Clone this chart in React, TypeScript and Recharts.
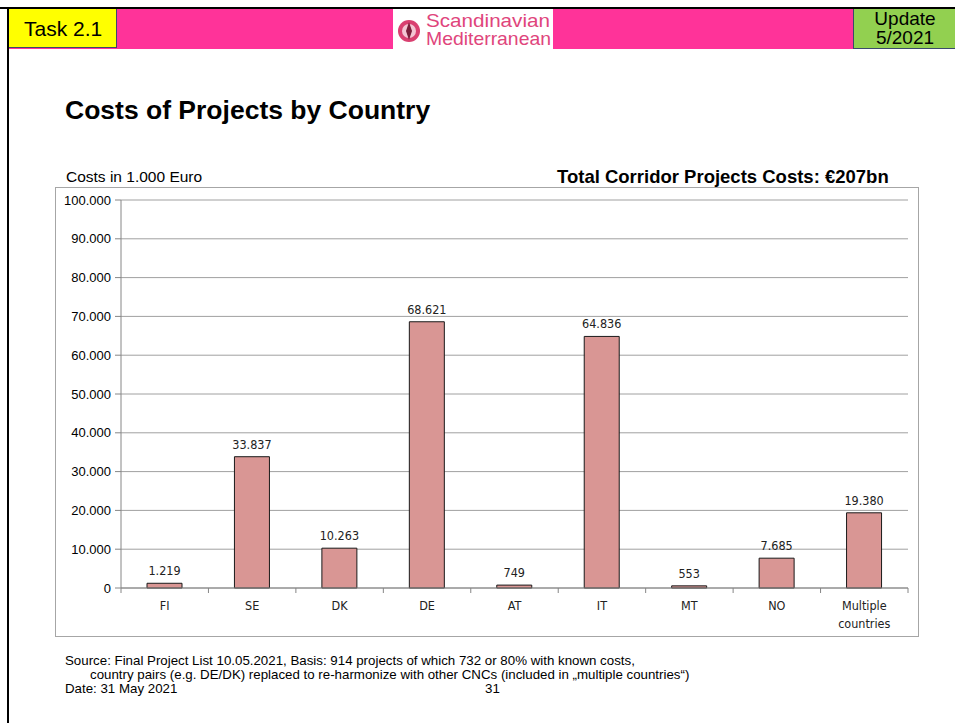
import React from 'react';
import { BarChart, Bar, XAxis, YAxis, CartesianGrid, LabelList } from 'recharts';

// country codes and project costs (in 1.000 Euro)
const countries = ['FI', 'SE', 'DK', 'DE', 'AT', 'IT', 'MT', 'NO', 'Multiple countries'];
const costs = [1219, 33837, 10263, 68621, 749, 64836, 553, 7685, 19380];
const yTicks = [0, 10000, 20000, 30000, 40000, 50000, 60000, 70000, 80000, 90000, 100000];

const data = countries.map((c, i) => ({ country: c, cost: costs[i] }));

const CHART_W = 864;
const CHART_H = 450;
const Y_W = 66;
const RIGHT = 11;
const band = (CHART_W - Y_W - RIGHT) / countries.length;

// 1.219 style thousands separator
const fmt = (v: number) => String(v).replace(/\B(?=(\d{3})+(?!\d))/g, '.');

const narrow = '"DejaVu Sans Condensed", "Liberation Sans", sans-serif';
const arial = '"Liberation Sans", Arial, sans-serif';

const CountryTick = (props: any) => {
  const { x, y, payload, index } = props;
  const lines = String(payload.value).split(' ');
  const left = x - band / 2;
  return (
    <g>
      <line x1={left} y1={y - 8} x2={left} y2={y - 3} stroke="#868686" />
      {index === countries.length - 1 && (
        <line x1={x + band / 2} y1={y - 8} x2={x + band / 2} y2={y - 3} stroke="#868686" />
      )}
      {lines.map((l, i) => (
        <text key={i} x={x} y={y + 14 + i * 18} textAnchor="middle" fontSize={12.5} fill="#222" fontFamily={narrow}>
          {l}
        </text>
      ))}
    </g>
  );
};

export default function App() {
  return (
    <div style={{ position: 'absolute', left: 0, top: 0, width: 955, height: 723, background: '#fff', overflow: 'hidden', fontFamily: arial }}>
      {/* slide frame */}
      <div style={{ position: 'absolute', left: 0, top: 7, width: 955, height: 2, background: '#000' }} />
      <div style={{ position: 'absolute', left: 7, top: 7, width: 2, height: 716, background: '#000' }} />

      {/* header bar */}
      <div style={{ position: 'absolute', left: 9, top: 9, width: 946, height: 40, background: '#ff3399' }} />
      <div style={{ position: 'absolute', left: 9, top: 9, width: 108, height: 39, background: '#ffff00', borderRight: '1px solid #3a4a6a', borderBottom: '1px solid #3a4a6a', fontSize: 21, lineHeight: '40px', paddingLeft: 15, boxSizing: 'border-box', color: '#000' }}>
        Task 2.1
      </div>
      <div style={{ position: 'absolute', left: 853, top: 9, width: 102, height: 39, background: '#92d050', borderLeft: '1px solid #3a4a6a', borderBottom: '1px solid #3a4a6a', fontSize: 19, lineHeight: '19px', textAlign: 'center', color: '#000', overflow: 'hidden' }}>
        <div style={{ marginTop: 0 }}>Update</div>
        <div>5/2021</div>
      </div>
      <div style={{ position: 'absolute', left: 393, top: 9, width: 160, height: 40, background: '#fff', overflow: 'hidden' }}>
        <svg width={160} height={40}>
          <circle cx={16} cy={22} r={11} fill="#d94070" />
          <circle cx={16} cy={22} r={7} fill="#f3c6d3" />
          <polygon points="16,13 19,22 16,31 13,22" fill="#7a1f3a" />
          <text x={33} y={18} fontSize={19} textLength={124} lengthAdjust="spacingAndGlyphs" fill="#e0457c" fontFamily={arial}>Scandinavian</text>
          <text x={33} y={36} fontSize={19} textLength={125} lengthAdjust="spacingAndGlyphs" fill="#e0457c" fontFamily={arial}>Mediterranean</text>
        </svg>
      </div>

      {/* title */}
      <div style={{ position: 'absolute', left: 65, top: 95, fontSize: 26.5, fontWeight: 'bold', color: '#000' }}>
        Costs of Projects by Country
      </div>

      <div style={{ position: 'absolute', left: 66, top: 168, fontSize: 15.5, color: '#000' }}>Costs in 1.000 Euro</div>
      <div style={{ position: 'absolute', left: 557, top: 166, fontSize: 18.5, fontWeight: 'bold', color: '#000' }}>
        Total Corridor Projects Costs: €207bn
      </div>

      {/* chart */}
      <div style={{ position: 'absolute', left: 55, top: 187, width: CHART_W, height: CHART_H, border: '1px solid #a6a6a6', boxSizing: 'border-box' }} />
      <div style={{ position: 'absolute', left: 55, top: 187 }}>
        <BarChart width={CHART_W} height={CHART_H} data={data} margin={{ top: 13, right: RIGHT, left: 0, bottom: 0 }} barSize={35}>
          <CartesianGrid vertical={false} stroke="#a0a0a0" />
          <XAxis
            dataKey="country"
            interval={0}
            height={49}
            axisLine={{ stroke: '#868686' }}
            tickLine={false}
            tick={<CountryTick />}
          />
          <YAxis
            width={Y_W}
            domain={[0, 100000]}
            ticks={yTicks}
            tickFormatter={fmt}
            axisLine={{ stroke: '#868686' }}
            tickLine={{ stroke: '#868686' }}
            tickSize={6}
            tickMargin={4}
            tick={{ fontSize: 13, fill: '#000', fontFamily: arial }}
          />
          <Bar dataKey="cost" fill="#d99694" stroke="#1a1a1a" strokeWidth={1} isAnimationActive={false}>
            <LabelList dataKey="cost" position="top" offset={8} formatter={(v: any) => fmt(Number(v))} style={{ fontSize: 12.5, fill: '#222', fontFamily: narrow }} />
          </Bar>
        </BarChart>
      </div>

      {/* footnote */}
      <div style={{ position: 'absolute', left: 65, top: 654, fontSize: 13.3, lineHeight: '14px', color: '#000', whiteSpace: 'nowrap' }}>
        Source: Final Project List 10.05.2021, Basis: 914 projects of which 732 or 80% with known costs,
      </div>
      <div style={{ position: 'absolute', left: 90, top: 668, fontSize: 13.3, lineHeight: '14px', color: '#000', whiteSpace: 'nowrap' }}>
        country pairs (e.g. DE/DK) replaced to re-harmonize with other CNCs (included in „multiple countries“)
      </div>
      <div style={{ position: 'absolute', left: 65, top: 682, fontSize: 13.3, lineHeight: '14px', color: '#000' }}>
        Date: 31 May 2021
      </div>
      <div style={{ position: 'absolute', left: 485, top: 682, fontSize: 13.3, lineHeight: '14px', color: '#000' }}>31</div>
    </div>
  );
}
